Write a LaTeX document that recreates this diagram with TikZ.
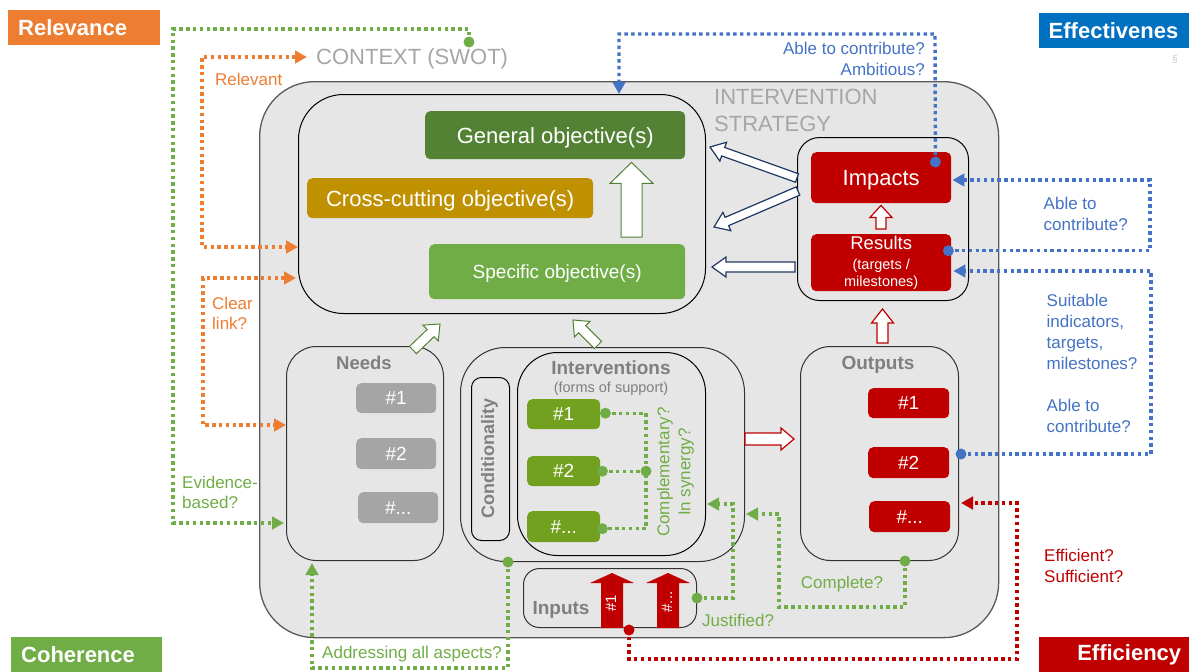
\documentclass[tikz,border=0pt]{standalone}
\usepackage{fontspec}
\setmainfont{Liberation Sans}
\usetikzlibrary{arrows.meta,calc}
\definecolor{bggray}{HTML}{E7E6E6}
\definecolor{txtgray}{HTML}{A6A6A6}
\definecolor{lblgray}{HTML}{7F7F7F}
\definecolor{needgray}{HTML}{A5A5A5}
\definecolor{cgreen}{HTML}{70AD47}
\definecolor{dgreen}{HTML}{548235}
\definecolor{igreen}{HTML}{72A11F}
\definecolor{gold}{HTML}{BF9000}
\definecolor{cred}{HTML}{C00000}
\definecolor{cblue}{HTML}{4472C4}
\definecolor{eblue}{HTML}{0070C0}
\definecolor{corange}{HTML}{ED7D31}
\definecolor{navy}{HTML}{1F3864}
\definecolor{framegray}{HTML}{595959}
\newcommand\fsz[2]{\fontsize{#1}{#2}\selectfont}
\newcommand\blockarr[6]{%
  \coordinate (bac) at ($(#2)!#5!(#1)$);
  \path[#6] ($(#1)!#3!90:(#2)$) -- ($(bac)!#3!90:(#2)$) -- ($(bac)!#4!90:(#2)$) -- (#2)
    -- ($(bac)!#4!-90:(#2)$) -- ($(bac)!#3!-90:(#2)$) -- ($(#1)!#3!-90:(#2)$) -- cycle;}
\newcommand\dotat[2]{\fill[#1] (#2) circle (5.5pt);}
\begin{document}
\begin{tikzpicture}[x=1pt,y=-1pt,
  frame/.style={draw=#1, line width=1pt, fill=bggray, inner sep=0pt, anchor=north west},
  frame/.default=black,
  tag/.style={fill=#1, text=white, inner sep=0pt, rounded corners=5pt, anchor=north west},
  txt/.style={text=#1, inner sep=0pt},
  capc/.style={text height=#1, text depth=0pt},
  hdr/.style={text=lblgray, inner sep=0pt, font=\bfseries\fsz{19}{23}, text depth=0pt},
  titlebox/.style={fill=#1, text=white, font=\bfseries\fsz{22}{26}, anchor=north west, inner ysep=0pt, minimum height=35pt},
  dotline/.style={draw=#1, line width=3.4pt, dash pattern=on 3.4pt off 3.4pt},
  endtip/.style={-{Triangle[length=12pt,width=12.5pt]}},
  bothtips/.style={{Triangle[length=12pt,width=12.5pt]}-{Triangle[length=12pt,width=12.5pt]}},
  navyarr/.style={fill=white, draw=navy, line width=1.2pt},
  greenarr/.style={fill=white, draw=dgreen, line width=1pt},
  redarr/.style={fill=white, draw=cred, line width=1.2pt},
  solidarr/.style={fill=cred},
]
\useasboundingbox (0,0) rectangle (1189,672);

% ---------- title boxes ----------
\node[titlebox=corange, inner xsep=10pt, text width=132pt, align=left] (trel) at (8,9.5) {Relevance};
\node[titlebox=eblue, inner xsep=10pt, text width=131pt, align=left] (teff) at (1038.5,12.5) {Effectivenes};
\node[titlebox=cgreen, inner xsep=10pt, text width=131pt, align=left] (tcoh) at (11,637) {Coherence};
\node[titlebox=cred, inner xsep=8pt, text width=134.5pt, align=right] (tefc) at (1038.5,637) {Efficiency};
\node[txt=black!22, font=\fsz{10}{12}] (sicon) at (1175,59) {§};

% ---------- context ----------
\node[txt=txtgray, font=\fsz{22}{26}, anchor=west, capc=15.8pt] (context) at (316,57) {CONTEXT (SWOT)};

% ---------- intervention strategy frame ----------
\node[frame=framegray, line width=1.3pt, rounded corners=55pt, minimum width=739pt, minimum height=556pt] (strategy) at (259,81) {};
\node[txt=txtgray, font=\fsz{22}{27}, anchor=west, align=left] (stratlbl) at (714,110.5) {INTERVENTION\\STRATEGY};

% objectives
\node[frame, rounded corners=45pt, minimum width=407pt, minimum height=219pt] (obj) at (298,94) {};
\node[tag=dgreen, minimum width=260pt, minimum height=48pt, font=\fsz{22}{26}, capc=15.8pt] (gen) at (425,111) {General objective(s)};
\node[tag=gold, minimum width=286pt, minimum height=40pt, font=\fsz{22}{26}, capc=15.8pt] (cross) at (307,178) {Cross-cutting objective(s)};
\node[tag=cgreen, minimum width=256pt, minimum height=55pt, font=\fsz{19}{23}, capc=13.7pt] (spec) at (429,244) {Specific objective(s)};

% impacts / results
\node[frame, rounded corners=22pt, minimum width=171pt, minimum height=163pt] (imframe) at (797,137) {};
\node[tag=cred, minimum width=140pt, minimum height=51pt, font=\fsz{22}{26}, capc=15.8pt] (impacts) at (811,152) {Impacts};
\node[tag=cred, minimum width=140pt, minimum height=57pt, font=\fsz{14.5}{17}, align=center] (results) at (811,234) {{\fsz{18.5}{22}Results}\\[3pt](targets /\\milestones)};

% needs
\node[frame=black!80, rounded corners=30pt, minimum width=157pt, minimum height=214pt] (needs) at (286,346) {};
\node[hdr, font=\bfseries\fsz{18.5}{22}] (needslbl) at (364,363) {Needs};
\node[tag=needgray, minimum width=80pt, minimum height=30pt, font=\fsz{19}{23}] (n1) at (356,383) {\#1};
\node[tag=needgray, minimum width=80pt, minimum height=31pt, font=\fsz{19}{23}] (n2) at (356,438) {\#2};
\node[tag=needgray, minimum width=80pt, minimum height=31pt, font=\fsz{19}{23}] (n3) at (358,492) {\#...};

% interventions
\node[frame=black!80, rounded corners=45pt, minimum width=284pt, minimum height=214pt] (ivout) at (460,347) {};
\node[frame, rounded corners=10pt, minimum width=38pt, minimum height=163pt] (cond) at (471,377) {};
\node[hdr, font=\bfseries\fsz{18}{22}, rotate=90, text depth=0pt] (condlbl) at (487.5,458.5) {Conditionality};
\node[frame, rounded corners=40pt, minimum width=188pt, minimum height=203pt] (ivin) at (517,352) {};
\node[hdr] (ivlbl) at (611,368) {Interventions};
\node[txt=lblgray, font=\fsz{14.5}{17}] (ivsub) at (611,389) {(forms of support)};
\node[tag=igreen, minimum width=73pt, minimum height=30pt, font=\fsz{19}{23}] (g1) at (527,399) {\#1};
\node[tag=igreen, minimum width=73pt, minimum height=30pt, font=\fsz{19}{23}] (g2) at (527,456) {\#2};
\node[tag=igreen, minimum width=73pt, minimum height=31pt, font=\fsz{19}{23}] (g3) at (527,511) {\#...};
\node[txt=cgreen, font=\fsz{17}{21}, rotate=90, align=center] (complbl) at (675.5,472) {Complementary?\\In synergy?};

% outputs
\node[frame=black!80, rounded corners=30pt, minimum width=158pt, minimum height=214pt] (outputs) at (800,346) {};
\node[hdr] (outlbl) at (878,363) {Outputs};
\node[tag=cred, minimum width=81pt, minimum height=30pt, font=\fsz{19}{23}] (o1) at (868,388) {\#1};
\node[tag=cred, minimum width=81pt, minimum height=31pt, font=\fsz{19}{23}] (o2) at (868,447) {\#2};
\node[tag=cred, minimum width=81pt, minimum height=31pt, font=\fsz{19}{23}] (o3) at (869,501) {\#...};

% inputs
\node[frame=black!80, rounded corners=16pt, minimum width=173pt, minimum height=59pt] (inputs) at (523,568) {};
\node[hdr] (inlbl) at (561,608) {Inputs};
\coordinate (ia1s) at (inputs.south -| 612,0);
\coordinate (ia1e) at (612,573);
\coordinate (ia2s) at (inputs.south -| 668,0);
\coordinate (ia2e) at (668,573);
\blockarr{ia1s}{ia1e}{11pt}{22pt}{10pt}{solidarr}
\blockarr{ia2s}{ia2e}{11pt}{22pt}{10pt}{solidarr}
\node[txt=white, font=\fsz{15}{18}, rotate=90] (ia1lbl) at (611,603) {\#1};
\node[txt=white, font=\fsz{15}{18}, rotate=90] (ia2lbl) at (667,602) {\#...};

% ---------- block arrows ----------
\coordinate (ba1s) at (imframe.west |- 0,178);
\coordinate (ba1e) at ($(obj.east |- 0,147)+(4,0)$);
\coordinate (ba2s) at ($(imframe.west |- 0,191)+(1,0)$);
\coordinate (ba2e) at ($(obj.east |- 0,227)+(8,0)$);
\coordinate (ba3s) at ($(imframe.west |- 0,267)+(-2,0)$);
\coordinate (ba3e) at ($(obj.east |- 0,267)+(6,0)$);
\blockarr{ba1s}{ba1e}{4.5pt}{10pt}{14pt}{navyarr}
\blockarr{ba2s}{ba2e}{4.5pt}{10pt}{14pt}{navyarr}
\blockarr{ba3s}{ba3e}{5pt}{10pt}{14pt}{navyarr}

\coordinate (gus) at ($(spec.north -| 631.5,0)+(0,-7)$);
\coordinate (gue) at ($(gen.south -| 631.5,0)+(0,3)$);
\blockarr{gus}{gue}{10.5pt}{21.5pt}{21pt}{greenarr}

\coordinate (d1s) at (413,350);
\coordinate (d1e) at (440,324);
\coordinate (d2s) at (598,345);
\coordinate (d2e) at (573,320);
\blockarr{d1s}{d1e}{5pt}{11pt}{13pt}{greenarr}
\blockarr{d2s}{d2e}{5pt}{11pt}{13pt}{greenarr}

\coordinate (r1s) at ($(results.north -| 881,0)+(0,-5)$);
\coordinate (r1e) at ($(impacts.south -| 881,0)+(0,2)$);
\blockarr{r1s}{r1e}{5pt}{11pt}{12pt}{redarr}
\coordinate (r2s) at ($(outputs.north -| 882.5,0)+(0,-3)$);
\coordinate (r2e) at ($(imframe.south -| 882.5,0)+(0,8)$);
\blockarr{r2s}{r2e}{5.5pt}{11pt}{14pt}{redarr}
\coordinate (r3s) at (ivout.east |- 0,439);
\coordinate (r3e) at ($(outputs.west |- 0,439)+(-6,0)$);
\blockarr{r3s}{r3e}{6pt}{11pt}{13pt}{redarr}

% ---------- dotted connectors ----------
% relevance (orange)
\coordinate (ctxL) at ($(context.west)+(-9,0)$);
\coordinate (objL1) at (obj.west |- 0,247);
\draw[dotline=corange, bothtips] (ctxL) -| (202,247) -- (objL1);
\coordinate (objL2) at ($(obj.west |- 0,278)+(-2,0)$);
\draw[dotline=corange, bothtips] (objL2) -| (203,425) -- (needs.west |- 0,425);
\node[txt=corange, font=\fsz{17}{21}, anchor=west] (lrel) at (215,79) {Relevant};
\node[txt=corange, font=\fsz{17}{20}, anchor=west, align=left] (lclear) at (212,313) {Clear\\link?};

% coherence (green)
\coordinate (ctxdot) at (469,42);
\draw[dotline=cgreen, endtip] (ctxdot) -- (469,29) -| (173,523) -- ($(needs.west |- 0,523)+(-2,0)$);
\dotat{cgreen}{ctxdot}
\node[txt=cgreen, font=\fsz{17}{20}, anchor=west, align=left] (levid) at (182,492) {Evidence-\\based?};

\coordinate (ivB) at (ivout.south -| 508,0);
\draw[dotline=cgreen, endtip] (ivB) -- (508,668) -| ($(needs.south -| 312,0)+(0,2)$);
\dotat{cgreen}{ivB}
\node[txt=cgreen, font=\fsz{17}{21}, capc=12.2pt] (laddr) at (412,652) {Addressing all aspects?};

\coordinate (c1) at ($(g1.east)+(5,-1)$);
\coordinate (c2) at ($(g2.east)+(2,0)$);
\coordinate (c3) at ($(g3.east)+(2,2)$);
\coordinate (cj) at (c2 -| 646,0);
\draw[dotline=cgreen] (c1) -- (c1 -| 646,0) -- (c3 -| 646,0) -- (c3);
\draw[dotline=cgreen] (c2) -- (cj);
\dotat{cgreen}{c1}
\dotat{cgreen}{c2}
\dotat{cgreen}{c3}
\dotat{cgreen}{cj}

\coordinate (inR) at (inputs.east);
\draw[dotline=cgreen, endtip] (inR) -| (733,504) -- ($(ivin.east |- 0,504)+(1,0)$);
\dotat{cgreen}{inR}
\node[txt=cgreen, font=\fsz{17}{21}, anchor=west] (ljust) at (702,620) {Justified?};

\coordinate (outB) at (outputs.south -| 905,0);
\draw[dotline=cgreen, endtip] (outB) -- (905,607) -| (779,514) -- ($(ivout.east |- 0,514)+(1,0)$);
\dotat{cgreen}{outB}
\node[txt=cgreen, font=\fsz{17}{21}, capc=12.2pt] (lcompl) at (842,582) {Complete?};

% effectiveness (blue)
\coordinate (impD) at ($(impacts.north east)+(-16,10)$);
\draw[dotline=cblue, endtip] (impD) -- (935,34) -| (obj.north -| 619,0);
\dotat{cblue}{impD}
\node[txt=cblue, font=\fsz{17}{21}, anchor=east, align=right] (lamb) at (925,58.5) {Able to contribute?\\Ambitious?};

\coordinate (resD) at ($(results.east)+(-3,-12)$);
\draw[dotline=cblue, endtip] (resD) -| (1150,180) -- ($(impacts.east |- 0,180)+(1,0)$);
\dotat{cblue}{resD}
\node[txt=cblue, font=\fsz{17}{21}, anchor=west, align=left] (labl1) at (1043.5,213.5) {Able to\\contribute?};

\coordinate (outD) at ($(outputs.east |- 0,454)+(2,0)$);
\draw[dotline=cblue, endtip] (outD) -| (1151,271) -- ($(results.east |- 0,271)+(2,0)$);
\dotat{cblue}{outD}
\node[txt=cblue, font=\fsz{17}{21}, anchor=west, align=left] (lsuit) at (1046.5,332) {Suitable\\indicators,\\targets,\\milestones?};
\node[txt=cblue, font=\fsz{17}{21}, anchor=west, align=left] (labl2) at (1046.5,415.5) {Able to\\contribute?};

% efficiency (red)
\coordinate (inD) at ($(inputs.south -| 629,0)+(0,2)$);
\draw[dotline=cred, endtip] (inD) -- (629,659) -| (1017,503) -- ($(outputs.east |- 0,503)+(2,0)$);
\dotat{cred}{inD}
\node[txt=cred, font=\fsz{17}{21}, anchor=west, align=left] (leff) at (1044,565.5) {Efficient?\\Sufficient?};

\end{tikzpicture}
\end{document}
